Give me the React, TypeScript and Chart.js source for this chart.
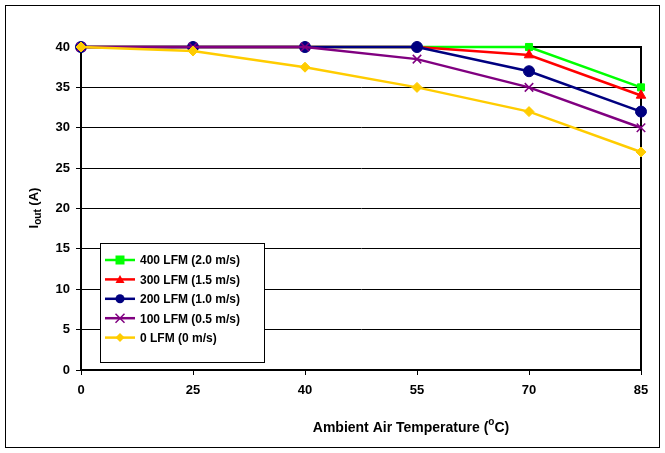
import React, { useEffect, useRef } from 'react';
import Chart from 'chart.js/auto';

const temps = ['0', '25', '40', '55', '70', '85'];
const lfm400 = [40, 40, 40, 40, 40, 35];
const lfm300 = [40, 40, 40, 40, 39, 34];
const lfm200 = [40, 40, 40, 40, 37, 32];
const lfm100 = [40, 40, 40, 38.5, 35, 30];
const lfm0 = [40, 39.5, 37.5, 35, 32, 27];
const seriesNames = ['400 LFM (2.0 m/s)', '300 LFM (1.5 m/s)', '200 LFM (1.0 m/s)', '100 LFM (0.5 m/s)', '0 LFM (0 m/s)'];

const FONT = 'bold 13px Arial, "Liberation Sans", sans-serif';
const SMALL = 'bold 10px Arial, "Liberation Sans", sans-serif';

// small marker for the hand-drawn legend
const marker = (c: CanvasRenderingContext2D, style: string, x: number, y: number, r: number) => {
  c.beginPath();
  if (style === 'rect') {
    c.fillRect(x - r, y - r, 2 * r, 2 * r);
  } else if (style === 'triangle') {
    c.moveTo(x, y - r);
    c.lineTo(x + r, y + r * 0.8);
    c.lineTo(x - r, y + r * 0.8);
    c.closePath();
    c.fill();
  } else if (style === 'circle') {
    c.arc(x, y, r, 0, Math.PI * 2);
    c.fill();
  } else if (style === 'crossRot') {
    c.moveTo(x - r, y - r);
    c.lineTo(x + r, y + r);
    c.moveTo(x + r, y - r);
    c.lineTo(x - r, y + r);
    c.lineWidth = 1.5;
    c.stroke();
  } else {
    c.moveTo(x, y - r);
    c.lineTo(x + r, y);
    c.lineTo(x, y + r);
    c.lineTo(x - r, y);
    c.closePath();
    c.fill();
  }
};

const App = () => {
  const chartRef = useRef<HTMLCanvasElement>(null);
  const chartInstance = useRef<Chart | null>(null);

  useEffect(() => {
    if (!chartRef.current) return;
    const ctx = chartRef.current.getContext('2d');
    if (!ctx) return;
    if (chartInstance.current) chartInstance.current.destroy();

    const mk = (i: number, data: number[], color: string, style: string, r: number) => ({
      label: seriesNames[i], data, borderColor: color, backgroundColor: color, pointStyle: style,
      pointRadius: r, pointBorderWidth: style === 'crossRot' ? 1.5 : 1,
      borderWidth: 2.5, tension: 0, clip: false, order: 4 - i,
    });

    const decor = {
      id: 'decor',
      afterDraw(chart: any) {
        const c = chart.ctx;
        c.save();
        c.strokeStyle = '#000';
        c.lineWidth = 1;
        c.strokeRect(5.5, 5.5, 654, 442);
        c.fillStyle = '#000';
        // y title: I_out (A)
        c.translate(34, 208);
        c.rotate(-Math.PI / 2);
        c.textBaseline = 'middle';
        c.textAlign = 'left';
        c.font = FONT;
        const w = c.measureText('I').width;
        const wr = c.measureText(' (A)').width;
        c.font = SMALL;
        const ws = c.measureText('out').width;
        const x0 = -(w + ws + wr) / 2;
        c.font = FONT;
        c.fillText('I', x0, 0);
        c.fillText(' (A)', x0 + w + ws, 0);
        c.font = SMALL;
        c.fillText('out', x0 + w, 4);
        c.restore();
        c.save();
        c.fillStyle = '#000';
        c.textBaseline = 'middle';
        // x title
        const big = 'bold 14px Arial, "Liberation Sans", sans-serif';
        c.font = big;
        const t1 = 'Ambient Air Temperature (';
        const w1 = c.measureText(t1).width;
        const w2 = c.measureText('C)').width;
        c.font = SMALL;
        const wo = c.measureText('o').width;
        const xs = 411 - (w1 + wo + w2) / 2;
        c.font = big;
        c.fillText(t1, xs, 428);
        c.fillText('C)', xs + w1 + wo, 428);
        c.font = SMALL;
        c.fillText('o', xs + w1, 422);
        // legend
        const lx = 100, ly = 243;
        c.fillStyle = '#fff';
        c.fillRect(lx, ly, 164, 119);
        c.lineWidth = 1;
        c.strokeStyle = '#000';
        c.strokeRect(lx + 0.5, ly + 0.5, 164, 119);
        [...chart.data.datasets].forEach((ds: any, i: number) => {
          const y = 260 + i * 19.4;
          c.strokeStyle = ds.borderColor;
          c.fillStyle = ds.backgroundColor;
          c.lineWidth = 2.5;
          c.beginPath();
          c.moveTo(105, y);
          c.lineTo(135, y);
          c.stroke();
          marker(c, ds.pointStyle, 120, y, 4.5);
          c.fillStyle = '#000';
          c.font = 'bold 12px Arial, "Liberation Sans", sans-serif';
          c.fillText(seriesNames[i], 140, y + 1);
        });
        c.restore();
      },
    };

    chartInstance.current = new Chart(ctx, {
      type: 'line',
      data: {
        labels: temps,
        datasets: [
          mk(0, lfm400, '#00ff00', 'rect', 5),
          mk(1, lfm300, '#ff0000', 'triangle', 5.5),
          mk(2, lfm200, '#000080', 'circle', 5.5),
          mk(3, lfm100, '#800080', 'crossRot', 6),
          mk(4, lfm0, '#ffcc00', 'rectRot', 5),
        ],
      },
      options: {
        animation: false,
        responsive: false,
        layout: { padding: { top: 47, right: 24, left: 0, bottom: 0 } },
        plugins: { legend: { display: false }, tooltip: { enabled: false } },
        scales: {
          x: {
            offset: false,
            grid: { display: true, drawOnChartArea: false, color: '#000', tickLength: 5 },
            border: { color: '#000', width: 2 },
            ticks: { color: '#000', font: { family: 'Arial, "Liberation Sans", sans-serif', size: 13, weight: 'bold' }, padding: 8, maxRotation: 0 },
            afterFit: (s: any) => { s.height = 83; },
          },
          y: {
            min: 0, max: 40,
            grid: { color: '#000', lineWidth: 1, tickLength: 5 },
            border: { color: '#000', width: 2 },
            ticks: { stepSize: 5, color: '#000', font: { family: 'Arial, "Liberation Sans", sans-serif', size: 13, weight: 'bold' }, padding: 6 },
            afterFit: (s: any) => { s.width = 81; },
          },
        },
      },
      plugins: [
        decor,
        {
          id: 'frame',
          beforeDatasetsDraw(chart: any) {
            const a = chart.chartArea;
            const c = chart.ctx;
            c.save();
            c.strokeStyle = '#000';
            c.lineWidth = 2;
            c.strokeRect(a.left, a.top, a.right - a.left, a.bottom - a.top);
            c.restore();
          },
        },
      ],
    } as any);

    return () => {
      if (chartInstance.current) chartInstance.current.destroy();
    };
  }, []);

  return (
    <div style={{ position: 'fixed', left: 0, top: 0, width: 665, height: 453, background: '#fff' }}>
      <canvas ref={chartRef} width={665} height={453}></canvas>
    </div>
  );
};

export default App;
